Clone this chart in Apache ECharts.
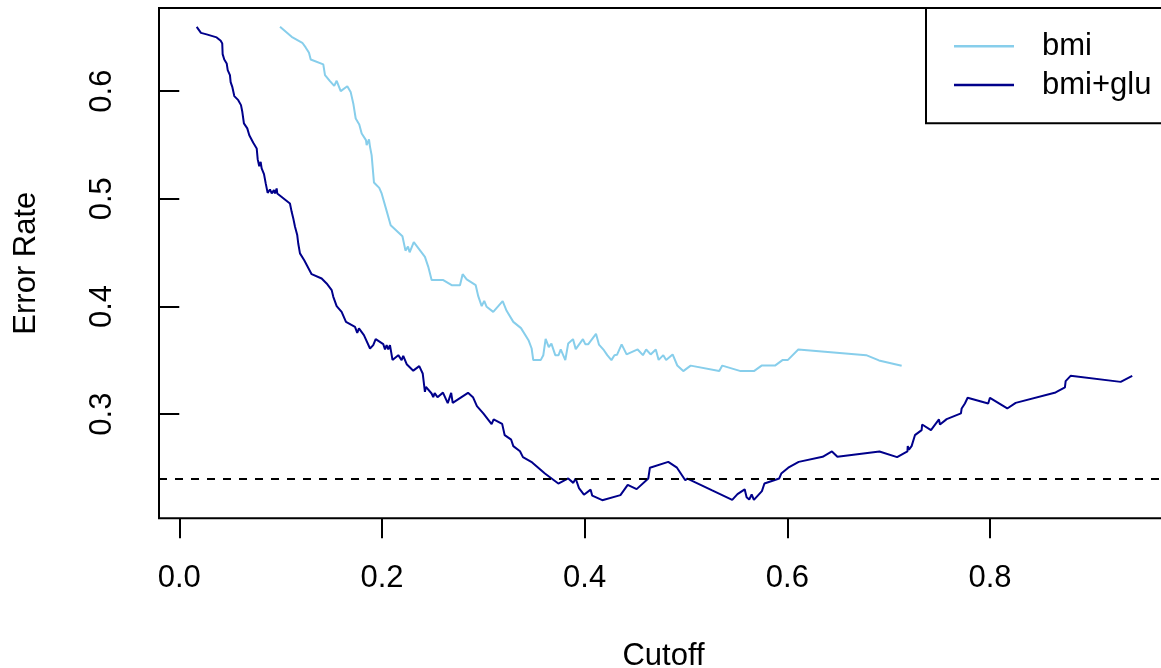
<!DOCTYPE html>
<html>
<head>
<meta charset="utf-8">
<script src="https://cdn.jsdelivr.net/npm/echarts@6/dist/echarts.min.js"></script>
<style>html,body{margin:0;padding:0;background:#fff;}#chart{width:1161px;height:668px;}</style>
</head>
<body>
<div id="chart"></div>
<script>
// bmi model: cutoff vs error rate
const bmiCutoff = [0.0994,0.1109,0.1214,0.1247,0.1280,0.1297,0.1421,0.1438,0.1487,0.1529,0.1553,0.1593,0.1658,0.1691,0.1717,0.1741,0.1776,0.1800,0.1842,0.1849,0.1872,0.1882,0.1898,0.1921,0.1973,0.1997,0.2046,0.2086,0.2202,0.2232,0.2257,0.2273,0.2314,0.2424,0.2457,0.2490,0.2605,0.2688,0.2770,0.2796,0.2836,0.2925,0.2950,0.2984,0.3009,0.3033,0.3098,0.3191,0.3230,0.3296,0.3372,0.3446,0.3477,0.3493,0.3566,0.3592,0.3615,0.3646,0.3672,0.3710,0.3743,0.3764,0.3809,0.3838,0.3885,0.3912,0.3983,0.4006,0.4036,0.4112,0.4141,0.4190,0.4223,0.4264,0.4294,0.4319,0.4365,0.4414,0.4523,0.4575,0.4607,0.4651,0.4702,0.4730,0.4776,0.4804,0.4868,0.4914,0.4973,0.5046,0.5328,0.5358,0.5539,0.5670,0.5746,0.5878,0.5955,0.6006,0.6108,0.6778,0.6904,0.7128];
const bmiError  = [0.6597,0.6504,0.6449,0.6406,0.6356,0.6294,0.6248,0.6149,0.6093,0.6049,0.6096,0.6000,0.6046,0.5993,0.5886,0.5746,0.5691,0.5607,0.5545,0.5498,0.5551,0.5483,0.5406,0.5152,0.5102,0.5050,0.4888,0.4755,0.4653,0.4519,0.4556,0.4503,0.4598,0.4461,0.4368,0.4245,0.4245,0.4198,0.4198,0.4300,0.4251,0.4198,0.4096,0.4003,0.4052,0.3997,0.3950,0.4050,0.3960,0.3857,0.3799,0.3687,0.3610,0.3502,0.3502,0.3548,0.3699,0.3622,0.3655,0.3548,0.3548,0.3601,0.3502,0.3657,0.3697,0.3604,0.3697,0.3650,0.3650,0.3746,0.3646,0.3594,0.3548,0.3502,0.3548,0.3551,0.3648,0.3555,0.3601,0.3548,0.3601,0.3555,0.3601,0.3504,0.3548,0.3504,0.3555,0.3452,0.3400,0.3451,0.3400,0.3451,0.3400,0.3400,0.3451,0.3451,0.3504,0.3504,0.3601,0.3548,0.3499,0.3449];

// bmi+glu model: cutoff vs error rate
const gluCutoff = [0.0172,0.0214,0.0270,0.0369,0.0409,0.0424,0.0428,0.0444,0.0468,0.0478,0.0500,0.0507,0.0523,0.0543,0.0582,0.0609,0.0622,0.0638,0.0671,0.0691,0.0730,0.0764,0.0774,0.0789,0.0803,0.0813,0.0836,0.0853,0.0872,0.0895,0.0912,0.0934,0.0944,0.0961,0.0967,0.1092,0.1109,0.1125,0.1142,0.1164,0.1174,0.1191,0.1233,0.1306,0.1405,0.1454,0.1504,0.1520,0.1553,0.1602,0.1645,0.1734,0.1756,0.1773,0.1822,0.1882,0.1914,0.1938,0.2013,0.2030,0.2046,0.2062,0.2079,0.2104,0.2161,0.2194,0.2210,0.2244,0.2309,0.2368,0.2402,0.2424,0.2434,0.2490,0.2506,0.2520,0.2548,0.2602,0.2649,0.2683,0.2698,0.2849,0.2898,0.2937,0.3000,0.3082,0.3102,0.3186,0.3211,0.3275,0.3296,0.3362,0.3391,0.3482,0.3608,0.3740,0.3838,0.3888,0.3911,0.3944,0.3993,0.4059,0.4075,0.4174,0.4353,0.4425,0.4513,0.4628,0.4644,0.4825,0.4911,0.4993,0.5014,0.5253,0.5456,0.5508,0.5579,0.5598,0.5624,0.5648,0.5670,0.5749,0.5774,0.5920,0.5940,0.6009,0.6112,0.6348,0.6440,0.6494,0.6909,0.7083,0.7185,0.7188,0.7200,0.7226,0.7259,0.7325,0.7330,0.7417,0.7496,0.7506,0.7572,0.7713,0.7720,0.7752,0.7779,0.7982,0.7999,0.8170,0.8253,0.8647,0.8739,0.8746,0.8795,0.9289,0.9403];
const gluError  = [0.6597,0.6541,0.6527,0.6499,0.6467,0.6443,0.6344,0.6294,0.6257,0.6195,0.6149,0.6084,0.6040,0.5954,0.5916,0.5870,0.5808,0.5700,0.5654,0.5591,0.5520,0.5468,0.5366,0.5303,0.5343,0.5282,0.5229,0.5143,0.5055,0.5087,0.5050,0.5081,0.5050,0.5096,0.5050,0.4957,0.4879,0.4818,0.4740,0.4663,0.4585,0.4493,0.4430,0.4300,0.4260,0.4214,0.4152,0.4090,0.4003,0.3950,0.3857,0.3811,0.3755,0.3796,0.3734,0.3610,0.3641,0.3697,0.3650,0.3601,0.3641,0.3601,0.3641,0.3504,0.3548,0.3502,0.3542,0.3464,0.3404,0.3446,0.3378,0.3207,0.3254,0.3192,0.3158,0.3195,0.3158,0.3200,0.3102,0.3198,0.3105,0.3198,0.3158,0.3074,0.3007,0.2907,0.2951,0.2910,0.2805,0.2763,0.2703,0.2655,0.2601,0.2552,0.2449,0.2356,0.2403,0.2362,0.2403,0.2313,0.2252,0.2299,0.2243,0.2201,0.2248,0.2343,0.2304,0.2403,0.2503,0.2557,0.2503,0.2387,0.2401,0.2294,0.2204,0.2257,0.2302,0.2229,0.2208,0.2254,0.2204,0.2285,0.2356,0.2403,0.2449,0.2503,0.2557,0.2604,0.2654,0.2604,0.2654,0.2601,0.2654,0.2703,0.2670,0.2703,0.2805,0.2852,0.2904,0.2852,0.2951,0.2904,0.2954,0.3007,0.3053,0.3099,0.3152,0.3099,0.3152,0.3053,0.3105,0.3202,0.3248,0.3307,0.3356,0.3300,0.3356];

const baselineError = 0.2353;
const xTicks = [0, 0.2, 0.4, 0.6, 0.8];
const yTicks = [0.3, 0.4, 0.5, 0.6];
const seriesNames = ['bmi', 'bmi+glu'];

const zip = (xs, ys) => xs.map((x, i) => [x, ys[i]]);
const FONT = '"Liberation Sans", Arial, Helvetica, sans-serif';
const chart = echarts.init(document.getElementById('chart'), null, {renderer: 'canvas'});
chart.setOption({
  animation: false,
  backgroundColor: '#ffffff',
  textStyle: {fontFamily: FONT},
  grid: {left: 159, top: 8, width: 1009, height: 510.3, show: true, borderColor: '#000', borderWidth: 2, containLabel: false, outerBoundsMode: 'none'},
  legend: {
    orient: 'vertical', left: 926, top: 8,
    padding: [22.8, 60, 22.8, 28],
    borderColor: '#000', borderWidth: 2, backgroundColor: '#fff',
    icon: 'rect', itemWidth: 60, itemHeight: 2.5, itemGap: 7.7,
    textStyle: {fontSize: 31, lineHeight: 31, color: '#000', fontFamily: FONT, padding: [0, 0, 0, 23]},
    data: seriesNames
  },
  xAxis: {
    type: 'value', min: -0.02, max: 0.9756,
    name: 'Cutoff', nameLocation: 'middle', nameGap: 123,
    nameTextStyle: {fontSize: 31, color: '#000', fontFamily: FONT},
    axisLine: {show: false},
    splitLine: {show: false},
    axisTick: {show: true, length: 20, customValues: xTicks, lineStyle: {color: '#000', width: 2}},
    axisLabel: {customValues: xTicks, fontSize: 31, color: '#000', margin: 45, fontFamily: FONT, formatter: v => v.toFixed(1)}
  },
  yAxis: {
    type: 'value', min: 0.2033, max: 0.6772,
    name: 'Error Rate', nameLocation: 'middle', nameGap: 117,
    nameTextStyle: {fontSize: 31, color: '#000', fontFamily: FONT},
    axisLine: {show: false},
    splitLine: {show: false},
    axisTick: {show: true, length: 20, customValues: yTicks, lineStyle: {color: '#000', width: 2}},
    axisLabel: {customValues: yTicks, rotate: 90, fontSize: 31, color: '#000', margin: 41, fontFamily: FONT, formatter: v => v.toFixed(1)}
  },
  series: [
    {
      name: seriesNames[0], type: 'line', data: zip(bmiCutoff, bmiError),
      showSymbol: false, symbol: 'none', smooth: false,
      itemStyle: {color: '#87CEEB'}, lineStyle: {color: '#87CEEB', width: 2}
    },
    {
      name: seriesNames[1], type: 'line', data: zip(gluCutoff, gluError),
      showSymbol: false, symbol: 'none', smooth: false,
      itemStyle: {color: '#00008B'}, lineStyle: {color: '#00008B', width: 2},
      markLine: {
        silent: true, symbol: ['none', 'none'], animation: false,
        label: {show: false},
        lineStyle: {color: '#000', width: 2, type: [8, 8]},
        emphasis: {disabled: true},
        data: [{yAxis: baselineError}]
      }
    }
  ]
});
</script>
</body>
</html>
